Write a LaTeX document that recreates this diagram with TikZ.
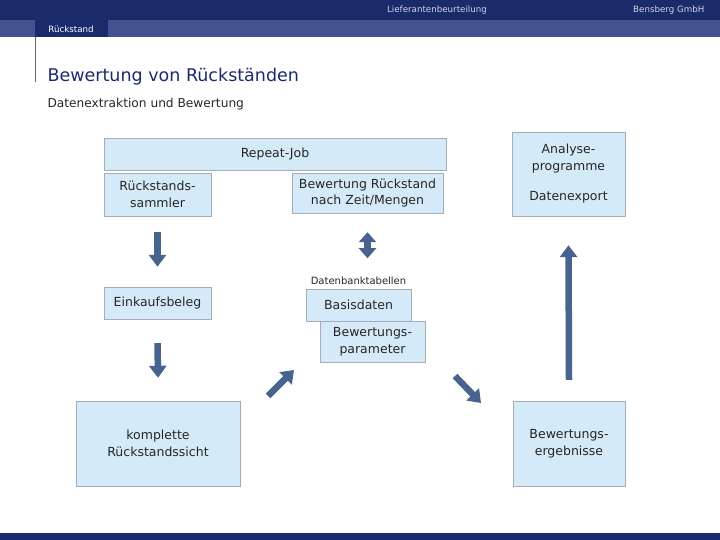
\documentclass[tikz,border=0pt]{standalone}
\usepackage{fontspec}
\setmainfont{DejaVu Sans}
\usetikzlibrary{arrows.meta,positioning}

\definecolor{navy}{RGB}{27,42,107}
\definecolor{tabbar}{RGB}{68,83,143}
\definecolor{boxfill}{RGB}{213,234,249}
\definecolor{boxline}{RGB}{165,172,182}
\definecolor{flow}{RGB}{72,99,142}

\tikzset{
  box/.style={draw=boxline,fill=boxfill,inner sep=0pt,align=center,text=black!85,font=\fontsize{12.5}{16.5}\selectfont},
  flowarrow/.style={draw=flow,line width=6.5pt,-{Triangle[length=12pt,width=17pt]}},
  flowboth/.style={draw=flow,line width=6.5pt,{Triangle[length=10pt,width=17pt]}-{Triangle[length=10pt,width=17pt]}}
}

\begin{document}
\begin{tikzpicture}[x=1pt,y=-1pt]
\useasboundingbox (0,0) rectangle (720,540);
% header
\fill[navy] (0,0) rectangle (720,20);
\fill[tabbar] (0,20) rectangle (720,37);
\fill[navy] (35,20) rectangle (108,37);
\draw[gray!80!black,line width=0.8pt] (35,37) -- (35,82);
\node[text=white!80!navy,font=\fontsize{8.7}{10}\selectfont] (kopf) at (437,10) {Lieferantenbeurteilung};
\node[text=white!80!navy,font=\fontsize{8.7}{10}\selectfont,anchor=east] (firma) at (708,10) {Bensberg GmbH};
\node[text=white,font=\fontsize{8.7}{10}\selectfont] (reiter) at (71,29) {Rückstand};
\node[text=navy,font=\fontsize{17.5}{20}\selectfont,anchor=west] (titel) at (44,77) {Bewertung von Rückständen};
\node[font=\fontsize{12.2}{14}\selectfont,text=black!85,anchor=west] (untertitel) at (44,104) {Datenextraktion und Bewertung};
\fill[navy] (0,533) rectangle (720,540);

% boxes
\node[box,minimum width=342,minimum height=32] (job) at (275,154) {Repeat-Job};
\node[box,minimum width=107,minimum height=43] (sammler) at (157.5,194.5) {Rückstands-\\sammler};
\node[box,minimum width=151,minimum height=40] (bewertung) at (367.5,193) {Bewertung Rückstand\\nach Zeit/Mengen};
\node[box,minimum width=113,minimum height=84] (analyse) at (568.5,174) {Analyse-\\programme\\[14pt]Datenexport};
\node[box,minimum width=107,minimum height=32] (einkauf) at (157.5,303) {Einkaufsbeleg};
\node[box,minimum width=105,minimum height=32] (basis) at (358.5,305) {Basisdaten};
\node[box,minimum width=105,minimum height=41] (parameter) at (372.5,341.5) {Bewertungs-\\parameter};
\node[font=\fontsize{10}{11}\selectfont,text=black!85,above=1pt of basis] (tabellen) {Datenbanktabellen};
\node[box,minimum width=164,minimum height=85] (sicht) at (158,443.5) {komplette\\Rückstandssicht};
\node[box,minimum width=112,minimum height=85] (ergebnis) at (569,443.5) {Bewertungs-\\ergebnisse};

% arrows
\coordinate (a1) at (268,396);
\coordinate (a2) at (294,370);
\coordinate (b1) at (455,376);
\coordinate (b2) at (481,403);
\draw[flowarrow] ([yshift=-16pt]sammler.south) -- ([yshift=20pt]einkauf.north);
\draw[flowarrow] ([yshift=-24pt]einkauf.south) -- ([yshift=23pt]sicht.north);
\draw[flowboth] ([yshift=-19pt]bewertung.south) -- ([yshift=-45pt]bewertung.south);
\draw[flowarrow] ([yshift=21pt]ergebnis.north) -- ([yshift=-29pt]analyse.south);
\draw[flowarrow] (a1) -- (a2);
\draw[flowarrow] (b1) -- (b2);
\end{tikzpicture}
\end{document}
